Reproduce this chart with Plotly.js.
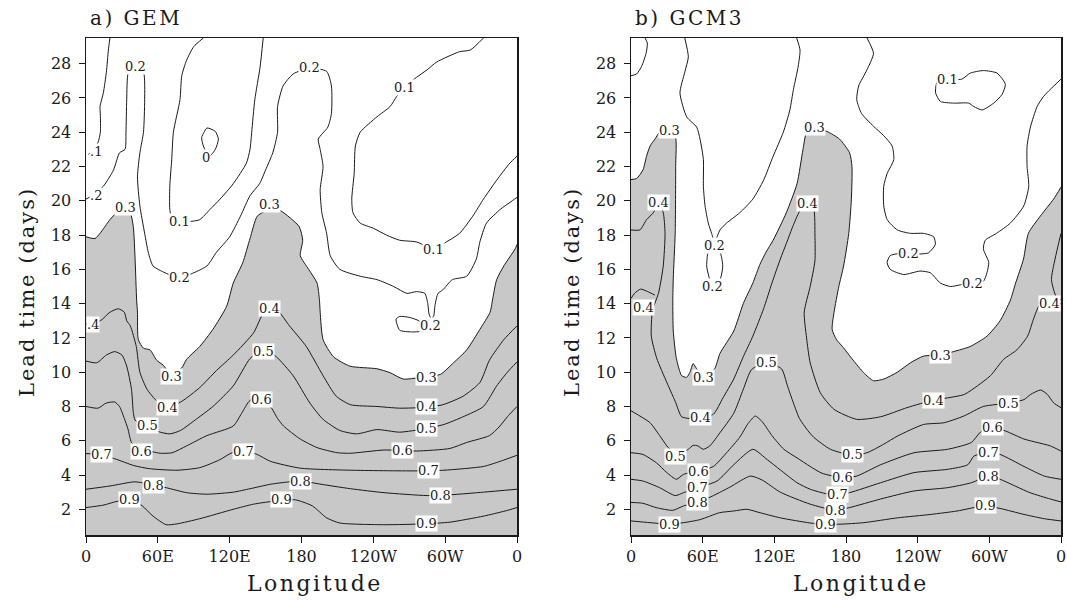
<!DOCTYPE html>
<html>
<head>
<meta charset="utf-8">
<script src="https://cdn.plot.ly/plotly-3.0.1.min.js"></script>
<style>
  html, body { margin: 0; padding: 0; background: #fff; }
  #chart { width: 1067px; height: 601px; }
  text[style*="font-size: 20px"] { letter-spacing: 2.5px; }
  text[style*="font-size: 21px"] { letter-spacing: 2px; }
  text[style*="font-size: 22px"] { letter-spacing: 2.5px; }
</style>
</head>
<body>
<div id="chart"></div>
<script>
// ---------------- Panel a) GEM : contour lines (longitude deg E, lead time days) ----------------
const a09_lon = [0,15,25,38,47,56,67,76,95,123,140,160,175,189,201,212,249,283,304,332,350,360];
const a09_day = [2.1,2.25,2.45,2.55,2.2,1.6,1.1,1.15,1.45,2.0,2.3,2.5,2.55,2.2,1.5,1.2,1.1,1.15,1.25,1.6,1.9,2.1];
const a08_lon = [0,20,40,47,56,67,84,101,123,137,154,170,185,193,221,249,285,305,332,360];
const a08_day = [3.17,3.36,3.6,3.55,3.4,3.26,2.97,2.88,3.0,3.2,3.46,3.6,3.6,3.5,3.2,2.97,2.8,2.85,3.0,3.17];
const a07_lon = [0,10,24,40,53,76,95,112,122,135,143,154,179,221,275,299,332,346,360];
const a07_day = [5.25,5.2,4.95,4.55,4.37,4.28,4.43,4.9,5.3,5.35,5.2,4.8,4.4,4.28,4.24,4.28,4.5,4.8,5.15];
const a06_lon = [0,10,17,24,28,32,35,38,45,56,62,72,84,101,123,130,137,147,155,160,165,179,193,210,221,249,276,304,318,337,345,352,360];
const a06_day = [8.0,7.9,8.2,8.26,8.0,7.3,6.7,5.9,5.45,5.35,5.27,5.3,5.7,6.3,6.86,7.6,8.35,8.45,7.9,7.3,6.86,6.1,5.6,5.3,5.27,5.46,5.4,5.55,5.9,6.3,6.8,7.4,8.0];
const a05_lon = [0,9,17,24,30,34,38,39.6,41,48,55,62,70,79,90,106,123,137,145,152,159,173,187,198,212,226,243,262,283,299,315,332,343,352,360];
const a05_day = [10.65,10.55,11.0,11.2,11.0,10.35,9.0,7.6,7.2,6.9,6.7,6.5,6.4,6.6,7.15,8.0,9.2,10.8,11.2,11.2,10.9,9.8,8.2,7.25,6.6,6.4,6.65,6.5,6.7,6.95,7.4,8.0,9.2,10.0,10.6];
const a04_lon = [0,12,20,27,32,34,37,42,45,51,58,68,80,95,109,123,140,147,153,160,170,184,198,209,221,243,262,283,298,315,329,337,349,360];
const a04_day = [12.8,13.0,13.5,13.7,13.5,13.0,12.7,11.5,10.0,9.0,8.4,7.93,8.3,9.1,10.1,11.0,12.3,13.3,13.7,13.6,12.7,11.5,9.8,8.6,8.1,8.0,7.9,7.95,8.1,8.6,9.4,10.7,11.9,12.7];
const a03_lon = [0,7.5,11.7,20,25.6,33,37,39.5,41,42.3,43,43.7,48,53.5,59,64.6,71,80,84,95,106,117.5,123,131,137,143,150,157,163,178,181,179,186,193,195,195.6,198,206.7,220.6,243,254,265,285,296,307,318,329,337.5,340,343,349,358.5,360];
const a03_day = [17.9,17.8,18.1,18.9,19.3,19.5,19.3,18.5,16.6,14.2,13.5,11.9,11.4,11.3,10.7,10.4,9.9,10.25,10.75,11.5,12.5,13.85,15.2,16.4,17.8,19.1,19.4,19.5,19.4,18.5,17.7,16.8,16.0,15.2,14.2,13.5,11.9,10.9,10.35,10.2,9.97,9.6,9.75,9.87,10.55,11.3,12.5,13.5,14.4,15.4,16.2,17.2,17.45];
const a02_lon = [0,5,14.5,23,28,32.6,33.4,34,35.4,41,48,49,48,45,43,45,49,52,56,66,78,90,101,109,120,129,137,145,150,156,160,160,164.6,173,187,201,205,205,202,194,195.6,198,195.6,197,201,204,212,229,243,257,268,276,283,285.5,286.5,288.5,290.5,291.5,294,298,306,318,326,329,334.5,346,354,360];
const a02_day = [20.1,20.3,20.85,21.8,22.8,23.0,24.0,25.9,27.5,27.85,27.5,25.9,24.0,22.8,21.4,19.7,18.1,17.0,16.2,15.8,15.5,15.8,16.2,17.0,17.9,19.1,20.3,21.0,21.8,22.8,24.0,25.5,26.7,27.4,27.75,27.55,26.7,25.1,24.3,23.6,23.0,22.0,20.65,19.3,18.1,16.8,16.0,15.6,15.4,15.0,14.6,14.7,14.6,14.0,13.4,13.1,13.3,13.9,14.6,14.8,15.4,15.6,16.6,17.6,18.7,19.5,19.9,20.2];
const a02loop_lon = [259,262,270,278,282,280,272,262,259];
const a02loop_day = [13.1,13.25,13.2,13.0,12.7,12.4,12.35,12.45,13.1];
const a01left_lon = [2,6,10,12,12,11.7,14.5,17,18.7,20];
const a01left_day = [22.7,23.0,23.4,24.0,25.0,25.5,26.3,27.5,28.8,29.5];
const a01mid_lon = [98,90,84,80,78.5,73,71.6,70,70,72,80,88,95,103.6,112,123,134,137,138.4,141,145.4,148];
const a01mid_day = [29.5,29.0,28.2,27.3,25.9,24.0,22.4,20.85,19.5,18.9,18.75,18.8,18.9,19.5,20.1,21.0,22.2,23.0,24.0,25.9,27.8,29.5];
const a01right_lon = [332,321,312,293,285,276,266,259.6,254,243,229,225,224,222,223,229,240,251,262,276,290,301,312,323,332,343,354,360];
const a01right_day = [29.5,28.8,28.7,28.1,27.65,27.2,26.6,26.1,25.5,24.9,24.0,23.2,21.6,20.1,19.3,18.7,18.4,18.0,17.7,17.6,17.2,17.6,18.1,19.1,20.1,21.2,22.2,22.6];
const a00_lon = [101,108,110.6,108,103,98,96.6,98.6,101];
const a00_day = [24.25,24.05,23.6,23.0,22.6,23.2,23.7,24.0,24.25];

const a_lab_lon = [8,8,41,100.5,187,266,33,78,153,78,290.5,287.5,6,153,148,147,131.5,179,163.5,71,68,51,46,13,56,36,284.5,284,284,264,286,296,284];
const a_lab_day = [22.9,20.3,27.85,22.5,27.75,26.6,19.6,18.8,19.8,15.5,17.15,12.7,12.8,13.7,11.23,8.4,5.4,3.6,2.58,9.77,7.93,6.86,5.4,5.2,3.4,2.58,9.7,7.97,6.7,5.44,4.24,2.82,1.16];
const a_lab_txt = [".1",".2","0.2","0","0.2","0.1","0.3","0.1","0.3","0.2","0.1","0.2",".4","0.4","0.5","0.6","0.7","0.8","0.9","0.3","0.4","0.5","0.6","0.7","0.8","0.9","0.3","0.4","0.5","0.6","0.7","0.8","0.9"];

// ---------------- Panel b) GCM3 ----------------
const b09_lon = [0,16,32,44,58,74,86,97,108,125,150,162,175,195,223,251,273,296,309,329,346,360];
const b09_day = [1.32,1.22,1.13,1.22,1.4,1.8,1.9,2.0,1.8,1.5,1.2,1.13,1.13,1.22,1.5,1.7,1.9,2.2,2.05,1.7,1.45,1.32];
const b08_lon = [0,10,21,35,44,56,69,83,100,110,125,150,171,183,209,237,265,285,299,309,334,351,360];
const b08_day = [2.4,2.35,2.1,1.94,2.2,2.4,2.8,3.3,3.94,3.7,3.0,2.3,1.95,2.1,2.6,3.07,3.26,3.55,3.94,3.75,2.97,2.6,2.43];
const b07_lon = [0,10,24,37,44,56,72,86,102,114,125,139,150,164,173,183,209,237,265,282,287,298,309,329,346,360];
const b07_day = [3.75,3.65,3.26,2.8,2.97,3.26,3.65,4.6,5.5,4.9,4.3,3.55,3.17,2.9,2.85,2.97,3.55,4.14,4.33,4.6,5.1,5.3,5.2,4.5,3.94,3.75];
const b06_lon = [0,10,21.5,30,38,44,56,69,80,91,98,104,110,118,128,139,150,160,177,189,209,237,265,285,292.5,303,313.5,329,340,351,360];
const b06_day = [5.3,5.2,4.7,4.14,3.75,4.04,4.23,4.5,5.3,6.2,7.0,7.44,7.1,6.3,5.5,5.0,4.5,4.1,3.85,3.94,4.6,5.3,5.5,5.9,6.5,6.76,6.57,6.1,5.9,5.7,5.4];
const b05_lon = [0,7.5,16,24,30,35.4,37,48,52,56,60.5,66,74.5,86,94,101,113,126,131,136,141,148,153,167,185,197.6,211.6,223,245,262,278.6,295,316,329,334.5,343,348.6,354,360];
const b05_day = [7.75,7.44,7.05,6.3,5.7,5.3,5.1,5.5,5.73,5.7,5.5,5.7,6.47,7.6,9.0,10.16,10.55,10.2,9.2,8.2,7.3,6.6,6.2,5.5,5.17,5.3,5.8,6.27,6.95,7.05,7.44,8.0,8.2,8.4,8.7,8.96,8.7,8.2,7.93];
const b04_lon = [0,7.5,13,18.7,23,27,28.5,27,23,18,17,21.6,30,37,42.4,49,58,69,77,86,94,102,111,118,125,130,136,142,148,153,154,154,150,145,147,150,158.5,170,189,209,231,253,265,279,290,301,312,323,332,337,342,350,360];
const b04_day = [18.3,18.3,18.9,19.3,19.9,19.3,18.1,16.2,14.6,13.6,12.1,10.8,9.4,8.3,7.4,7.3,7.36,7.55,8.5,9.6,10.9,12.1,13.7,15.2,16.6,17.5,18.6,19.5,19.9,19.5,18.0,16.5,15.0,13.5,12.0,10.55,8.8,7.83,7.25,7.4,7.93,8.37,8.5,8.7,9.2,9.8,10.75,11.3,12.1,13.1,13.9,14.0,14.0];
const b04left_lon = [0,3,8,14,20];
const b04left_day = [14.3,14.6,14.85,14.7,14.5];
const b04right_lon = [360,355,352,356,360];
const b04right_day = [18.1,16.6,15.4,14.4,14.2];
const b03_lon = [0,4.7,10,13,16,20,24,30,37,37.4,37,35.4,35,35.4,38,42.4,46.6,49.4,52,55,61,70,74.5,86,94,102,108,113,119,130,139,144,147,153,164,174.6,183,185,184.5,182.3,178,174,170,168.4,172,177,186,194.8,203,211.6,223,234,245,259,270,284,298,309,317.6,322,328.6,332.7,342.6,353.8,360];
const b03_day = [21.24,21.3,21.8,22.6,23.2,23.6,24.0,24.1,23.8,22.0,18.1,15.5,14.2,12.4,10.8,9.8,9.7,10.0,10.5,10.2,9.75,10.2,11.1,12.4,14.0,15.2,16.3,17.0,17.7,19.3,21.0,23.0,24.0,24.25,24.05,23.6,22.8,22.0,20.1,18.1,16.2,15.0,13.5,12.5,11.9,11.5,10.7,9.97,9.5,9.6,10.0,10.55,10.94,11.0,11.2,11.5,12.1,13.0,14.2,15.2,16.6,18.1,19.1,20.1,20.8];
const b02_lon = [45,48,45,41,46.6,55,57.8,60.6,60.6,62,64.7,67.5,70,74.5,80,91,102,111,119,127.5,133,136,140,141.5,138.7];
const b02_day = [29.5,28.4,27.5,26.3,24.9,24.3,23.6,22.4,20.85,19.7,18.7,18.1,17.6,18.3,18.7,19.3,20.1,21.2,22.6,24.0,25.3,26.5,27.85,28.8,29.5];
const b02lens_lon = [68,64.7,63.4,66,69,74.5,76.8,74.5,71,68];
const b02lens_day = [17.1,17.0,16.2,15.4,15.1,15.4,16.2,17.0,17.1,17.1];
const b02right_lon = [197.6,203,197.6,190.6,189,193,203,211.6,218.6,220,214.5,211.6,211.6,214.5,223,234,245,253.4,254.8,249,242,232,222,217,214.4,217,228.3,242,250.6,259,267.4,276,286,295,298,299.5,295,296.6,306,317.6,328.8,333,331.6,331.6,334.4,340,345.5,351,360];
const b02right_day = [29.5,28.6,27.65,26.7,25.9,25.1,24.35,23.8,23.2,22.4,21.6,20.85,19.7,18.9,18.3,18.1,18.1,17.9,17.45,16.96,16.9,16.9,16.9,16.8,16.4,16.0,15.7,15.9,15.8,15.2,15.0,15.1,15.2,15.3,15.8,16.4,17.2,17.7,18.1,18.7,19.7,20.85,22.0,23.2,24.3,25.5,26.1,26.5,27.1];
const b02corner_lon = [0,4.7,8.9,12.6,13.7,11.7];
const b02corner_day = [27.3,27.4,27.85,28.6,29.2,29.5];
const b01_lon = [265,277,284,295,306.5,313.4,310.6,303.6,294,287,282.7,270,259,255,255.6,258,265];
const b01_day = [27.1,27.1,27.45,27.6,27.45,26.8,26.2,25.7,25.3,25.5,25.7,25.7,25.8,26.3,26.8,27.1,27.1];

const b_lab_lon = [32,153.5,23,148,70,68,265,232,286,10.5,350.5,60.5,113.5,58,37.5,56.5,56,56,32.5,259,253,185.5,177,173,171,162.5,316,303,299,299,296.5];
const b_lab_day = [24.1,24.25,19.9,19.85,17.4,15.0,27.1,16.9,15.2,13.75,14.0,9.7,10.55,7.36,5.1,4.23,3.26,2.4,1.13,11.0,8.37,5.17,3.85,2.85,1.95,1.13,8.2,6.76,5.3,3.94,2.2];
const b_lab_txt = ["0.3","0.3","0.4","0.4","0.2","0.2","0.1","0.2","0.2","0.4","0.4","0.3","0.5","0.4","0.5","0.6","0.7","0.8","0.9","0.3","0.4","0.5","0.6","0.7","0.8","0.9","0.5","0.6","0.7","0.8","0.9"];

// Axis ticks
const lonTicks = [0,60,120,180,240,300,360];
const lonTickText = ["0","60E","120E","180","120W","60W","0"];
const dayTicks = [2,4,6,8,10,12,14,16,18,20,22,24,26,28];

// ---------------- build ----------------
const FONT = 'DejaVu Serif';
const INK = '#1a1a1a';
const SHADE = '#c8c8c8';

function line(lon, day, xa, ya, fill) {
  const t = {
    x: lon, y: day, xaxis: xa, yaxis: ya, type: 'scatter', mode: 'lines',
    line: {color: INK, width: 1, shape: 'spline', smoothing: 0.6},
    hoverinfo: 'skip', showlegend: false
  };
  if (fill) { t.fill = 'tozeroy'; t.fillcolor = SHADE; }
  return t;
}

const traces = [
  line(a03_lon, a03_day, 'x', 'y', true),
  line(a09_lon, a09_day, 'x', 'y'),
  line(a08_lon, a08_day, 'x', 'y'),
  line(a07_lon, a07_day, 'x', 'y'),
  line(a06_lon, a06_day, 'x', 'y'),
  line(a05_lon, a05_day, 'x', 'y'),
  line(a04_lon, a04_day, 'x', 'y'),
  line(a02_lon, a02_day, 'x', 'y'),
  line(a02loop_lon, a02loop_day, 'x', 'y'),
  line(a01left_lon, a01left_day, 'x', 'y'),
  line(a01mid_lon, a01mid_day, 'x', 'y'),
  line(a01right_lon, a01right_day, 'x', 'y'),
  line(a00_lon, a00_day, 'x', 'y'),

  line(b03_lon, b03_day, 'x2', 'y2', true),
  line(b09_lon, b09_day, 'x2', 'y2'),
  line(b08_lon, b08_day, 'x2', 'y2'),
  line(b07_lon, b07_day, 'x2', 'y2'),
  line(b06_lon, b06_day, 'x2', 'y2'),
  line(b05_lon, b05_day, 'x2', 'y2'),
  line(b04_lon, b04_day, 'x2', 'y2'),
  line(b04left_lon, b04left_day, 'x2', 'y2'),
  line(b04right_lon, b04right_day, 'x2', 'y2'),
  line(b02_lon, b02_day, 'x2', 'y2'),
  line(b02lens_lon, b02lens_day, 'x2', 'y2'),
  line(b02right_lon, b02right_day, 'x2', 'y2'),
  line(b02corner_lon, b02corner_day, 'x2', 'y2'),
  line(b01_lon, b01_day, 'x2', 'y2')
];

const annotations = [];
function addLabels(lons, days, txts, xr, yr) {
  for (let i = 0; i < lons.length; i++) {
    annotations.push({
      x: lons[i], y: days[i], xref: xr, yref: yr, text: txts[i],
      showarrow: false, bgcolor: '#ffffff', borderpad: 0,
      font: {family: FONT, size: 13, color: INK},
      xanchor: 'center', yanchor: 'middle'
    });
  }
}
addLabels(a_lab_lon, a_lab_day, a_lab_txt, 'x', 'y');
addLabels(b_lab_lon, b_lab_day, b_lab_txt, 'x2', 'y2');

function paperText(text, px, py, size, opts) {
  annotations.push(Object.assign({
    x: px / 1067, y: 1 - py / 601, xref: 'paper', yref: 'paper', text: text,
    showarrow: false, font: {family: FONT, size: size, color: INK},
    xanchor: 'center', yanchor: 'middle'
  }, opts || {}));
}
paperText('a) GEM', 88, 18, 20, {xanchor: 'left'});
paperText('b) GCM3', 633, 18, 20, {xanchor: 'left'});
paperText('Lead time (days)', 27, 292, 21, {textangle: -90});
paperText('Lead time (days)', 572, 292, 21, {textangle: -90});
paperText('Longitude', 315, 583, 22);
paperText('Longitude', 861, 583, 22);

function xAxis(dom, anchor) {
  return {
    domain: dom, anchor: anchor, range: [0, 360], tickmode: 'array',
    tickvals: lonTicks, ticktext: lonTickText, ticks: 'outside', ticklen: 6,
    tickcolor: INK, showline: true, mirror: true, linecolor: INK, linewidth: 1.5,
    showgrid: false, zeroline: false, tickfont: {family: FONT, size: 16, color: INK}
  };
}
function yAxis(anchor) {
  return {
    domain: [1 - 535/601, 1 - 38/601], anchor: anchor, range: [0.5, 29.5],
    tickmode: 'array', tickvals: dayTicks, ticks: 'outside', ticklen: 6,
    tickcolor: INK, showline: true, mirror: true, linecolor: INK, linewidth: 1.5,
    showgrid: false, zeroline: false, ticklabelstandoff: 4,
    tickfont: {family: FONT, size: 16, color: INK}
  };
}

const layout = {
  width: 1067, height: 601,
  margin: {l: 0, r: 0, t: 0, b: 0},
  paper_bgcolor: '#ffffff', plot_bgcolor: '#ffffff',
  showlegend: false,
  xaxis: xAxis([86/1067, 517/1067], 'y'),
  yaxis: yAxis('x'),
  xaxis2: xAxis([631/1067, 1061/1067], 'y2'),
  yaxis2: yAxis('x2'),
  annotations: annotations
};

Plotly.newPlot('chart', traces, layout, {staticPlot: true, displayModeBar: false});
</script>
</body>
</html>
